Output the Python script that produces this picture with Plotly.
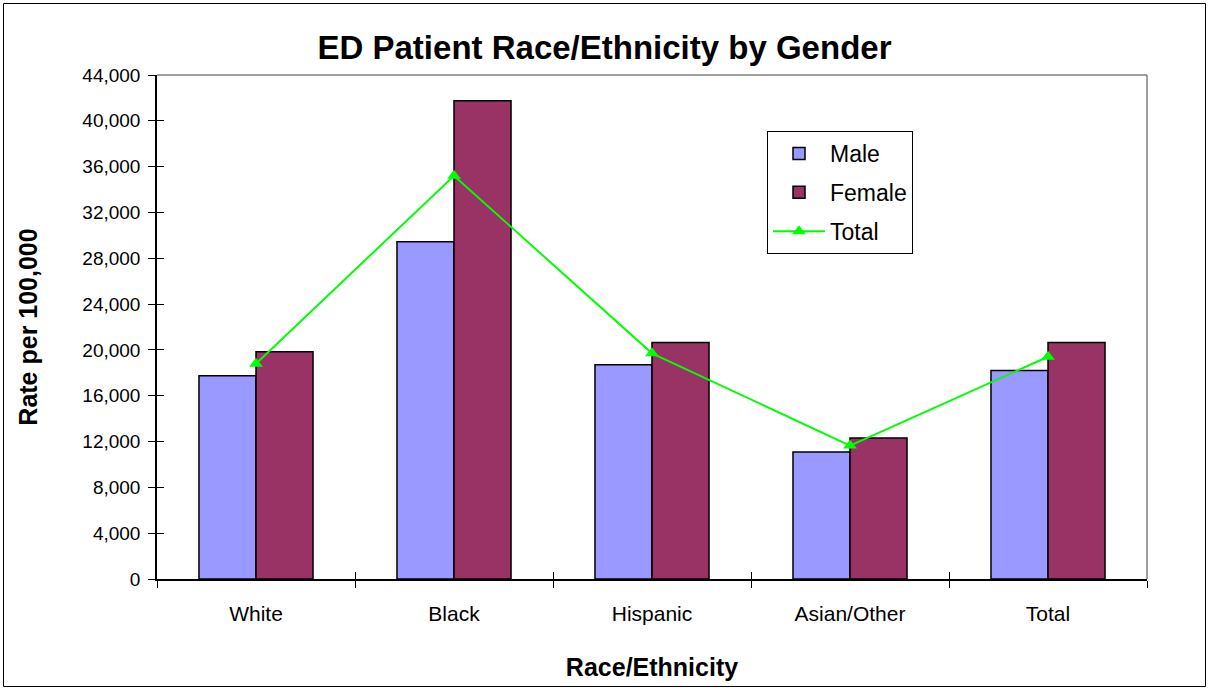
import plotly.graph_objects as go

# Values (rate per 100,000)
categories = ["White", "Black", "Hispanic", "Asian/Other", "Total"]
male = [17750, 29450, 18700, 11080, 18200]
female = [19850, 41750, 20650, 12300, 20650]
total = [18800, 35200, 19700, 11650, 19400]

MALE_COLOR = "#9999FF"
FEMALE_COLOR = "#993366"
LINE_COLOR = "#00FF00"
FONT = "Liberation Sans, Arial, sans-serif"

fig = go.Figure()

fig.add_trace(go.Bar(
    x=categories, y=male, name="Male",
    marker=dict(color=MALE_COLOR, line=dict(color="black", width=1.5)),
    legendgroup="m",
))
fig.add_trace(go.Bar(
    x=categories, y=female, name="Female",
    marker=dict(color=FEMALE_COLOR, line=dict(color="black", width=1.5)),
    legendgroup="f",
))
fig.add_trace(go.Scatter(
    x=categories, y=total, name="Total", mode="lines+markers",
    line=dict(color=LINE_COLOR, width=2),
    marker=dict(symbol="triangle-up", size=12, color=LINE_COLOR),
    legendgroup="t",
))
# invisible copy so the overlay axes (crossing tick marks) get drawn
fig.add_trace(go.Scatter(
    x=categories, y=total, xaxis="x2", yaxis="y2", mode="lines",
    line=dict(width=0), opacity=0, showlegend=False, hoverinfo="skip",
))

# plot area pixel box: x 157..1147, y 75..579
W, H = 1209, 690
L, R, T, B = 157, 62, 75, 111
pw, ph = W - L - R, H - T - B

def px(x):
    return (x - L) / pw

def py(y):
    return (H - B - y) / ph

fig.update_layout(
    width=W, height=H,
    paper_bgcolor="white", plot_bgcolor="white",
    font=dict(family=FONT, color="black", size=19),
    margin=dict(l=L, r=R, t=T, b=B),
    barmode="group", bargap=0.424, bargroupgap=0,
    title=dict(
        text="<b>ED Patient Race/Ethnicity by Gender</b>",
        x=0.5, xanchor="center", y=1 - 47 / H, yanchor="middle",
        font=dict(size=33, family=FONT),
    ),
    xaxis=dict(
        type="category", range=[-0.5, 4.5],
        showline=True, linecolor="black", linewidth=1.5,
        ticks="outside", ticklen=7, tickcolor="black", tickwidth=1,
        tickson="boundaries", showgrid=False,
        tickfont=dict(size=21), ticklabelstandoff=15,
        title=dict(text="<b>Race/Ethnicity</b>", font=dict(size=25), standoff=35),
    ),
    yaxis=dict(
        range=[0, 44000], dtick=4000, tickformat=",d",
        showline=True, linecolor="black", linewidth=1.5,
        ticks="outside", ticklen=7, tickcolor="black", tickwidth=1,
        showgrid=False, zeroline=False,
        tickfont=dict(size=19), ticklabelstandoff=4,
        title=dict(text="<b>Rate per 100,000</b>", font=dict(size=25), standoff=38),
    ),
    xaxis2=dict(
        type="category", overlaying="x", matches="x", range=[-0.5, 4.5],
        ticks="inside", ticklen=7, tickcolor="black", tickwidth=1,
        tickson="boundaries", showticklabels=False, showgrid=False, showline=False,
    ),
    yaxis2=dict(
        overlaying="y", matches="y", range=[0, 44000], dtick=4000,
        ticks="inside", ticklen=7, tickcolor="black", tickwidth=1,
        showticklabels=False, showgrid=False, showline=False, zeroline=False,
    ),
    legend=dict(
        x=px(767), y=py(131), xanchor="left", yanchor="top",
        bordercolor="black", borderwidth=1, bgcolor="white",
        font=dict(size=23), tracegroupgap=6, traceorder="grouped",
        itemwidth=52,
    ),
    shapes=[
        # grey frame on the top and right of the plot area
        dict(type="line", xref="paper", yref="paper", x0=0, x1=1, y0=1, y1=1,
             line=dict(color="#808080", width=1.5)),
        dict(type="line", xref="paper", yref="paper", x0=1, x1=1, y0=0, y1=1,
             line=dict(color="#808080", width=1.5)),
        # outer chart border
        dict(type="rect", xref="paper", yref="paper",
             x0=px(3.5), x1=px(1205.5), y0=py(686.5), y1=py(3.5),
             line=dict(color="black", width=1)),
    ],
)

fig.write_html("out.html", config={"displayModeBar": False},
               post_script="document.body.style.margin='0';")
